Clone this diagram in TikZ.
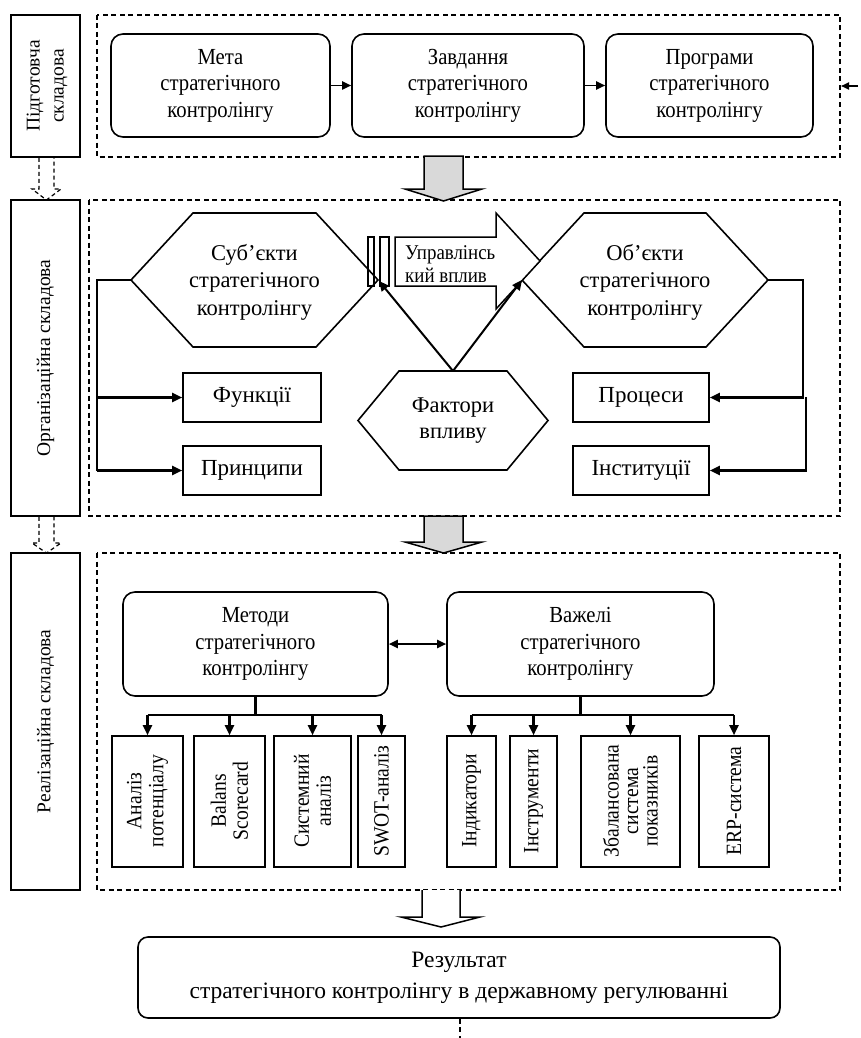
\documentclass[tikz,border=0pt]{standalone}
\usepackage{fontspec}
\setmainfont{Liberation Serif}
\newfontfamily\narrowf{Liberation Serif}[FakeStretch=0.9]
\usetikzlibrary{arrows.meta}
\tikzset{
  box/.style={draw, line width=1.6pt, fill=white, inner sep=0pt, align=center},
  rbox/.style={box, rounded corners=12pt},
  cont/.style={draw, line width=1.3pt, dash pattern=on 5pt off 3.5pt},
  hexa/.style={draw, line width=1.6pt, fill=white},
  txt/.style={align=center, inner sep=0pt},
  frbox/.style={font=\narrowf\fontsize{23}{26.5}\selectfont},
  fhex/.style={font=\fontsize{22.5}{27.5}\selectfont},
  fplain/.style={font=\fontsize{23}{27}\selectfont},
  fside/.style={font=\fontsize{19.5}{24}\selectfont},
  fsmall/.style={font=\narrowf\fontsize{21.8}{22}\selectfont},
  tip/.style={-{Triangle[length=10pt,width=9pt]}},
  conn/.style={line width=2.1pt, tip},
  graya/.style={draw, line width=1.5pt, fill=black!15},
}
\begin{document}
\begin{tikzpicture}[x=1pt,y=-1pt]
\useasboundingbox (0,0) rectangle (861,1038);

% containers
\draw[cont] (97,15) rectangle (840,157);
\draw[cont] (89,200) rectangle (840,516);
\draw[cont] (97,553) rectangle (840,890);

% left side boxes
\node[box, minimum width=69pt, minimum height=142pt] (L1) at (45.5,86) {};
\node[txt, fside, rotate=90] at (47,86) {Підготовча\\складова};
\node[box, minimum width=69pt, minimum height=316pt] (L2) at (45.5,358) {};
\node[txt, fside, rotate=90] at (L2) {Організаційна складова};
\node[box, minimum width=69pt, minimum height=337pt] (L3) at (45.5,721.5) {};
\node[txt, fside, rotate=90] at (L3) {Реалізаційна складова};

% dashed hollow arrows between left boxes
\draw[line width=1.2pt, dash pattern=on 4pt off 3pt] (L1.south -| 39,0) -- (39,189) -- (32,189) -- (46.5,200) -- (61,189) -- (54,189) -- (L1.south -| 54,0);
\draw[line width=1.2pt, dash pattern=on 4pt off 3pt] (L2.south -| 39,0) -- (39,543) -- (32,543) -- (46.5,553) -- (61,543) -- (54,543) -- (L2.south -| 54,0);

% top row
\node[rbox, frbox, minimum width=219pt, minimum height=103pt] (meta) at (220.5,85.5) {Мета\\стратегічного\\контролінгу};
\node[rbox, frbox, minimum width=232pt, minimum height=103pt] (zavd) at (468,85.5) {Завдання\\стратегічного\\контролінгу};
\node[rbox, frbox, minimum width=207pt, minimum height=103pt] (prog) at (709.5,85.5) {Програми\\стратегічного\\контролінгу};
\draw[line width=1.8pt, -{Triangle[length=9pt,width=8pt]}] (meta) -- (zavd);
\draw[line width=1.8pt, -{Triangle[length=9pt,width=8pt]}] (zavd) -- (prog);
\coordinate (inR) at (858,86);
\coordinate (inT) at (841,86);
\draw[line width=1.7pt, -{Triangle[length=8pt,width=7pt]}] (inR) -- (inT);

% gray block arrows
\draw[graya] (424,156) -- (424,189) -- (405,189) -- (443.5,201) -- (482,189) -- (463,189) -- (463,156) -- cycle;
\draw[graya] (424,516) -- (424,542) -- (405,542) -- (443.5,553) -- (482,542) -- (463,542) -- (463,516) -- cycle;

% middle: hexagons
\draw[hexa] (131,280) -- (193,213) -- (316,213) -- (378,280) -- (316,347) -- (193,347) -- cycle;
\node[txt, fhex] (sub) at (254.5,282) {Суб’єкти\\стратегічного\\контролінгу};
\coordinate (subW) at (131,280);
\coordinate (subE) at (379,281);

\draw[hexa] (522,280) -- (584,213) -- (706,213) -- (768,280) -- (706,347) -- (584,347) -- cycle;
\node[txt, fhex] (ob) at (645,282) {Об’єкти\\стратегічного\\контролінгу};
\coordinate (obW) at (522,280);
\coordinate (obE) at (768,280);

% management influence arrow
\draw[line width=1.4pt] (368,237) rectangle (374,286);
\draw[line width=1.4pt] (380,237) rectangle (389,286);
\draw[line width=1.5pt, fill=white] (395,237) -- (496,237) -- (496,213) -- (540,261) -- (496,309) -- (496,286) -- (395,286) -- cycle;
\node[txt, align=left, anchor=west, font=\narrowf\fontsize{21}{23}\selectfont] (upr) at (405,264) {Управлінсь\\кий вплив};

% factors
\draw[hexa] (358,420.5) -- (399,371) -- (507,371) -- (548,420.5) -- (507,470) -- (399,470) -- cycle;
\node[txt, font=\fontsize{22.5}{26}\selectfont] (fak) at (453,421) {Фактори\\впливу};
\coordinate (fakN) at (453,371);
\draw[line width=2pt, tip] (fakN) -- (subE);
\draw[line width=2pt, tip] (fakN) -- (obW);

% functions / principles
\node[box, fplain, minimum width=138pt, minimum height=49pt] (fun) at (252,397.5) {Функції};
\node[box, fplain, minimum width=138pt, minimum height=49pt] (pri) at (252,470.5) {Принципи};
\coordinate (lbus) at (97,280);
\draw[line width=2.1pt] (subW) -- (lbus) -- (lbus |- pri.west);
\draw[conn] (lbus |- fun.west) -- (fun.west);
\draw[conn] (lbus |- pri.west) -- (pri.west);

% processes / institutions
\node[box, fplain, minimum width=136pt, minimum height=49pt] (proc) at (641,397.5) {Процеси};
\node[box, fplain, minimum width=136pt, minimum height=49pt] (inst) at (641,470.5) {Інституції};
\coordinate (rbus) at (803,280);
\coordinate (rbus2) at (806,397);
\draw[conn] (obE) -- (rbus) |- (proc.east);
\draw[conn] (rbus2) |- (inst.east);

% bottom section
\node[rbox, frbox, minimum width=265pt, minimum height=104pt] (met) at (255.5,644) {Методи\\стратегічного\\контролінгу};
\node[rbox, frbox, minimum width=267pt, minimum height=104pt] (vaz) at (580.5,644) {Важелі\\стратегічного\\контролінгу};
\draw[line width=1.9pt, {Triangle[length=9pt,width=8pt]}-{Triangle[length=9pt,width=8pt]}] (met) -- (vaz);

\foreach \n/\x/\w/\t in {m1/147.5/71/{Аналіз\\потенціалу}, m2/229.5/71/{Balans\\Scorecard}, m3/312.5/77/{Системний\\аналіз}, m4/381.5/47/{SWOT-аналіз},
  v1/471.5/49/{Індикатори}, v2/533.5/47/{Інструменти}, v4/734/70/{ERP-система}} {
  \node[box, minimum width=\w pt, minimum height=131pt] (\n) at (\x,801.5) {};
  \node[txt, fsmall, rotate=90] at (\x,801) {\t};
}
\node[box, minimum width=99pt, minimum height=131pt] (v3) at (630.5,801.5) {};
\node[txt, font=\narrowf\fontsize{21.8}{19.5}\selectfont, rotate=90] at (630.5,801) {Збалансована\\система\\показників};

\coordinate (mbar) at (255.5,715);
\coordinate (vbar) at (580.5,715);
\draw[line width=2.1pt] (met.south) -- (mbar);
\draw[line width=2.1pt] (m1.north |- mbar) -- (m4.north |- mbar);
\draw[line width=2.1pt] (vaz.south) -- (vbar);
\draw[line width=2.1pt] (v1.north |- vbar) -- (v4.north |- vbar);
\foreach \n in {m1,m2,m3,m4} \draw[conn] (\n.north |- mbar) -- (\n.north);
\foreach \n in {v1,v2,v3,v4} \draw[conn] (\n.north |- vbar) -- (\n.north);

% white block arrow
\draw[line width=1.5pt, fill=white] (422,890) -- (422,917) -- (401,917) -- (441,927) -- (480,917) -- (460,917) -- (460,890);

% result
\node[rbox, rounded corners=10pt, minimum width=642pt, minimum height=81pt, font=\fontsize{23.5}{31}\selectfont] (res) at (459,977.5) {Результат\\стратегічного контролінгу в державному регулюванні};
\coordinate (resEnd) at (460,1038);
\draw[line width=1.2pt, dash pattern=on 5pt off 3.5pt] (res.south -| resEnd) -- (resEnd);
\end{tikzpicture}
\end{document}
